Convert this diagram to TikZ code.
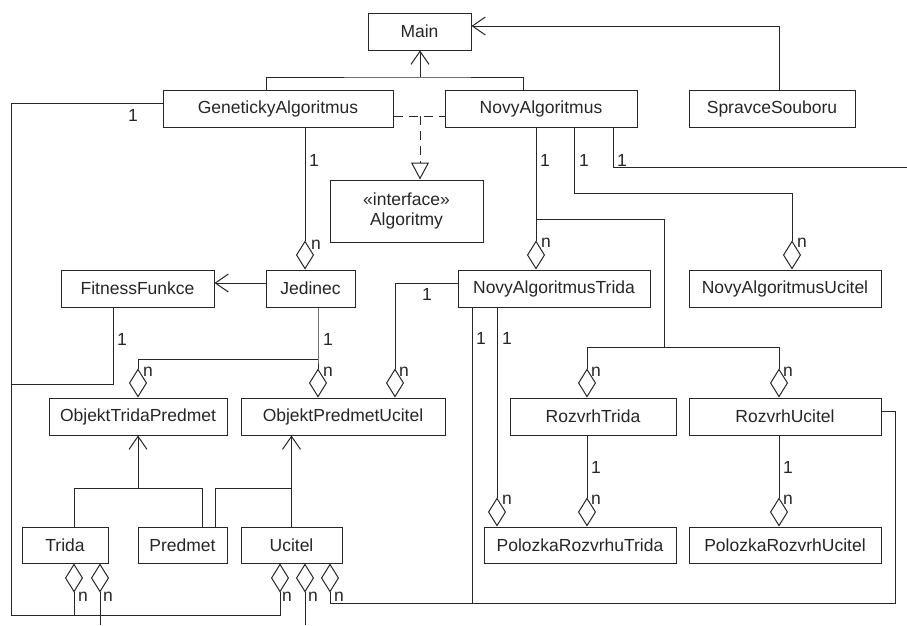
\documentclass[tikz,border=0pt]{standalone}
\usepackage{fontspec}
\setmainfont{Liberation Sans}
\usetikzlibrary{arrows.meta}

\begin{document}
\begin{tikzpicture}[x=1pt,y=-1pt,line width=1pt,black!85,
cls/.style={draw,inner sep=0pt,minimum height=37pt,font=\fontsize{17.5}{20}\selectfont},
mult/.style={inner sep=0pt,font=\fontsize{17.5}{20}\selectfont},
agg/.style={-{Diamond[open,length=29pt,width=18pt]}},
nav/.style={-{Straight Barb[length=13pt,width=18pt]}},
real/.style={dash pattern=on 9pt off 6pt}]
\useasboundingbox (0,0) rectangle (907,625);
\node[cls,minimum width=103pt] (Main) at (419.5,31.5) {Main};
\node[cls,minimum width=230pt] (GA) at (278,108.5) {GenetickyAlgoritmus};
\node[cls,minimum width=192pt] (NA) at (541,108.5) {NovyAlgoritmus};
\node[cls,minimum width=166pt] (SS) at (772,108.5) {SpravceSouboru};
\node[cls,minimum width=153pt,minimum height=62pt,align=center] (Alg) at (406.5,211) {«interface»\\Algoritmy};
\node[cls,minimum width=153pt] (FF) at (137.5,288.5) {FitnessFunkce};
\node[cls,minimum width=89pt] (Jed) at (310.5,288.5) {Jedinec};
\node[cls,minimum width=192pt] (NAT) at (554,288.5) {NovyAlgoritmusTrida};
\node[cls,minimum width=192pt] (NAU) at (785,288.5) {NovyAlgoritmusUcitel};
\node[cls,minimum width=178pt] (OTP) at (138,416.5) {ObjektTridaPredmet};
\node[cls,minimum width=204pt] (OPU) at (343,416.5) {ObjektPredmetUcitel};
\node[cls,minimum width=166pt] (RT) at (593,416.5) {RozvrhTrida};
\node[cls,minimum width=192pt] (RU) at (785,416.5) {RozvrhUcitel};
\node[cls,minimum width=86pt,minimum height=36pt] (Trida) at (65,545) {Trida};
\node[cls,minimum width=89pt,minimum height=36pt] (Predmet) at (182.5,545) {Predmet};
\node[cls,minimum width=101pt,minimum height=36pt] (Ucitel) at (291.5,545) {Ucitel};
\node[cls,minimum width=192pt,minimum height=36pt] (PRT) at (580,545) {PolozkaRozvrhuTrida};
\node[cls,minimum width=192pt,minimum height=36pt] (PRU) at (785,545) {PolozkaRozvrhUcitel};
\coordinate (mj) at (420,77);
\coordinate (rz) at (420,116);
\coordinate (lc) at (11,615);
\coordinate (fj) at (11,384);
\coordinate (bot) at (0,625);
\coordinate (rc) at (895,603);
\coordinate (jj) at (318,359);
\coordinate (tj) at (138,488);
\coordinate (uj) at (292,488);
\coordinate (nj) at (536,219);
\coordinate (rj) at (664,347);
\coordinate (uc) at (792,193);
\coordinate (re) at (907,167);
\draw[nav] (mj) -- (mj |- Main.south);
\draw ([xshift=-12pt]GA.north) |- (mj) -| ([xshift=-18pt]NA.north);
\draw[nav] ([xshift=7pt]SS.north) |- ([yshift=5.5pt]Main.east);
\draw[real] ([yshift=-7.5pt]GA.east) -- ([yshift=-7.5pt]NA.west);
\draw[real,-{Triangle[open,length=17pt,width=18pt]}] (rz) -- (rz |- Alg.north);
\draw[agg] ([yshift=5.5pt]GA.west) -| (lc) -| ([xshift=-11.5pt]Ucitel.south);
\draw ([xshift=-24.5pt]FF.south) |- (fj);
\draw[agg] ([xshift=9pt]Trida.south |- lc) -- ([xshift=9pt]Trida.south);
\draw[agg] ([xshift=35pt]Trida.south |- bot) -- ([xshift=35pt]Trida.south);
\draw[agg] ([xshift=13.5pt]Ucitel.south |- bot) -- ([xshift=13.5pt]Ucitel.south);
\draw[agg] ([xshift=-82pt]NAT.south) |- ([xshift=38.5pt]Ucitel.south |- rc) -- ([xshift=38.5pt]Ucitel.south);
\draw ([yshift=5.5pt]RU.east) -| (rc) -- ([xshift=-82pt]NAT.south |- rc);
\draw[agg] ([xshift=-57pt]NAT.south) -- ([xshift=-57pt]NAT.south |- PRT.north);
\draw[agg] ([yshift=5.5pt]NAT.west) -| ([xshift=52pt]OPU.north);
\draw[agg] ([xshift=27pt]GA.south) -- ([xshift=27pt]GA.south |- Jed.north);
\draw[nav] ([yshift=5.5pt]Jed.west) -- ([yshift=5.5pt]FF.east);
\draw[agg] ([xshift=7.5pt]Jed.south) -- (jj) -- (jj |- OPU.north);
\draw[agg] (jj) -| (OTP.north);
\draw[nav] (tj) -- (OTP.south);
\draw ([xshift=9pt]Trida.north) |- (tj) -| ([xshift=19.5pt]Predmet.north);
\draw[nav] (Ucitel.north) -- (Ucitel.north |- OPU.south);
\draw ([xshift=32.5pt]Predmet.north) |- (uj);
\draw[agg] ([xshift=-5pt]NA.south) -- ([xshift=-5pt]NA.south |- NAT.north);
\draw (nj) -| (rj);
\draw[agg] (rj) -| ([xshift=-6pt]RT.north);
\draw[agg] (rj) -| ([xshift=-6pt]RU.north);
\draw[agg] ([xshift=33pt]NA.south) |- (uc) -- (uc |- NAU.north);
\draw ([xshift=72pt]NA.south) |- (re);
\draw[agg] ([xshift=-6pt]RT.south) -- ([xshift=-6pt]RT.south |- PRT.north);
\draw[agg] ([xshift=-6pt]RU.south) -- ([xshift=-6pt]RU.south |- PRU.north);
\foreach \p/\t [count=\i] in {{133,115}/1,{314,160}/1,{316,245}/n,{545,160}/1,{584,160}/1,{622,160}/1,
  {546,243}/n,{802,243}/n,{122,339}/1,{328,339}/1,{427,294}/1,{148,372}/n,{328,372}/n,{404,372}/n,
  {481,338}/1,{507,338}/1,{596,372}/n,{788,372}/n,{596,467}/1,{788,467}/1,{507,500}/n,{596,500}/n,
  {788,500}/n,{83,597}/n,{108,597}/n,{287,597}/n,{313,597}/n,{339,597}/n}
  \node[mult] (m\i) at (\p) {\t};
\end{tikzpicture}
\end{document}
